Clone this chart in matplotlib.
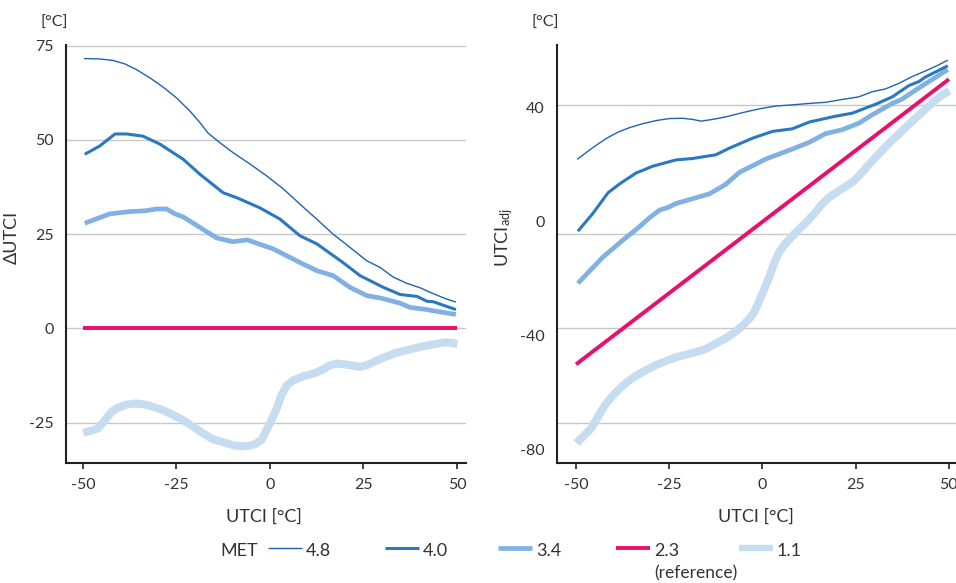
import numpy as np
import matplotlib
matplotlib.use("Agg")
import matplotlib.pyplot as plt
from matplotlib.lines import Line2D

plt.rcParams['font.family'] = ['Lato', 'DejaVu Sans']
plt.rcParams['mathtext.default'] = 'regular'
plt.rcParams['axes.unicode_minus'] = False

# delta UTCI, per metabolic rate (MET)
x_48 = [-49.7, -45.5, -41.9, -38.8, -35.7, -32.1, -28.5, -25.0, -21.4, -18.7, -16.5, -13.4, -9.8, -5.3, -0.9,
        3.6, 8.0, 12.5, 16.9, 21.4, 25.8, 29.4, 33.0, 36.5, 40.1, 43.7, 47.2, 49.7]
d_48 = [71.6, 71.5, 71.1, 70.2, 68.7, 66.5, 64.0, 61.2, 57.7, 54.6, 51.8, 49.3, 46.6, 43.6, 40.5,
        37.0, 33.0, 29.0, 25.0, 21.5, 18.0, 16.2, 13.6, 12.0, 10.8, 9.2, 7.8, 7.0]

x_40 = [-49.5, -45.5, -41.4, -38.3, -33.9, -29.4, -23.2, -18.7, -12.5, -8.9, -2.7, 2.7, 8.0, 12.6, 19.5,
        24.1, 30.3, 34.8, 39.3, 42.0, 43.6, 49.7]
d_40 = [46.2, 48.4, 51.6, 51.6, 51.0, 48.9, 44.9, 40.9, 36.0, 34.7, 32.0, 29.0, 24.6, 22.4, 17.5,
        14.0, 10.9, 9.0, 8.5, 7.2, 7.1, 5.0]

x_34 = [-49.5, -42.8, -37.4, -33.4, -30.3, -27.6, -25.4, -23.2, -18.7, -14.2, -9.9, -6.1, 0.9, 8.0,
        12.6, 16.9, 21.4, 25.9, 29.4, 34.8, 37.4, 42.0, 43.6, 49.7]
d_34 = [27.9, 30.4, 31.0, 31.2, 31.7, 31.7, 30.4, 29.6, 26.8, 24.0, 23.0, 23.5, 21.1, 17.5,
        15.3, 14.0, 10.9, 8.7, 8.1, 6.7, 5.6, 5.0, 4.7, 3.7]

x_23 = [-50.0, 50.0]
d_23 = [0.0, 0.0]

x_11 = [-49.9, -48.1, -45.9, -44.1, -42.3, -40.6, -38.3, -36.1, -33.9, -31.2, -28.5, -25.8, -23.2, -20.5,
        -17.8, -15.2, -12.5, -9.8, -7.6, -5.3, -3.6, -2.2, -0.9, 0.4, 1.8, 3.1, 4.5, 6.2, 8.9, 11.6,
        13.8, 16.0, 17.8, 20.5, 24.1, 25.8, 28.5, 31.2, 33.9, 36.5, 40.1, 43.7, 46.8, 49.0, 50.1]
d_11 = [-27.7, -27.2, -26.5, -24.3, -22.1, -21.0, -20.2, -19.9, -20.1, -20.8, -21.7, -23.0, -24.3, -26.1,
        -27.9, -29.4, -30.2, -31.0, -31.3, -31.1, -30.5, -29.5, -27.0, -24.3, -21.3, -17.7, -15.1, -13.8,
        -12.7, -12.0, -11.1, -9.8, -9.3, -9.6, -10.2, -9.8, -8.5, -7.4, -6.4, -5.8, -4.9, -4.2, -3.7,
        -3.9, -4.1]

met_labels = ['4.8', '4.0', '3.4', '2.3', '1.1']
colors = ['#1f63ae', '#2b78c2', '#80b1e2', '#eb0f6c', '#c6dcf1']
widths = [1.0, 2.2, 3.4, 2.8, 5.8]

series = [(x_48, d_48), (x_40, d_40), (x_34, d_34), (x_23, d_23), (x_11, d_11)]

W, H = 956, 583
fig = plt.figure(figsize=(W / 100, H / 100), dpi=100)

def fb(x0, y0, x1, y1):
    return [x0 / W, 1 - y1 / H, (x1 - x0) / W, (y1 - y0) / H]

ax1 = fig.add_axes(fb(66, 45, 466, 463))
ax2 = fig.add_axes(fb(557, 45, 956, 463))

# light lines go behind
for i in reversed(range(5)):
    xs, ds = series[i]
    xs = np.array(xs)
    ds = np.array(ds)
    ax1.plot(xs, ds, color=colors[i], lw=widths[i], solid_capstyle='butt', solid_joinstyle='round', zorder=3 + (4 - i))
    # adjusted UTCI = UTCI + delta
    ax2.plot(xs, xs + ds, color=colors[i], lw=widths[i], solid_capstyle='butt', solid_joinstyle='round', zorder=3 + (4 - i))

ax1.set_xlim(-54.5, 52.4)
ax1.set_ylim(-35.7, 75.2)
ax1.set_yticks([-25, 0, 25, 50, 75])
ax1.grid(axis='y', color='#c8c8c8', lw=1)

ax2.set_xlim(-55.1, 51.9)
ax2.set_ylim(-84.6, 62.0)
ax2.set_yticks([-80, -40, 0, 40])
# gridlines in the original sit slightly off the labels
for g in [41.0, -4.3, -37.3, -70.6]:
    ax2.axhline(g, color='#c8c8c8', lw=1, zorder=1)

for ax in (ax1, ax2):
    ax.set_xticks([-50, -25, 0, 25, 50])
    ax.set_xticklabels(['-50', '-25', '0', '25', '50'])
    for s in ('top', 'right'):
        ax.spines[s].set_visible(False)
    for s in ('left', 'bottom'):
        ax.spines[s].set_color('#222222')
        ax.spines[s].set_linewidth(1.5)
    ax.tick_params(axis='x', length=4, width=1.2, color='#222222', pad=7, labelsize=11.5, labelcolor='#333333')
    ax.tick_params(axis='y', length=0, pad=9, labelsize=11.5, labelcolor='#333333')
    ax.set_axisbelow(True)
    ax.set_xlabel('UTCI [°C]', fontsize=13, color='#333333')

ax1.xaxis.set_label_coords(0.495, -0.11)
ax2.xaxis.set_label_coords(0.499, -0.11)

ax1.set_ylabel('ΔUTCI', fontsize=13, color='#333333')
ax1.yaxis.set_label_coords(-0.115, 0.54)
ax2.set_ylabel('UTCI$_{adj}$', fontsize=13, color='#333333')
ax2.yaxis.set_label_coords(-0.105, 0.54)

fig.text(54 / W, 1 - 23 / H, '[°C]', ha='center', va='center', fontsize=11.5, color='#333333')
fig.text(545 / W, 1 - 23 / H, '[°C]', ha='center', va='center', fontsize=11.5, color='#333333')

# legend along the bottom
ly = 1 - 548 / H
fig.text(220 / W, 1 - 551 / H, 'MET', ha='left', va='center', fontsize=13, color='#333333')
starts = [268, 385, 498, 616, 739]
for i in range(5):
    x0 = starts[i]
    lw = min(widths[i], 4.6)
    fig.add_artist(Line2D([x0 / W, (x0 + 34) / W], [ly, ly], transform=fig.transFigure,
                          color=colors[i], lw=lw, solid_capstyle='butt'))
    fig.text((x0 + 38) / W, 1 - 551 / H, met_labels[i], ha='left', va='center', fontsize=13, color='#333333')
fig.text(654 / W, 1 - 573 / H, '(reference)', ha='left', va='center', fontsize=12.5, color='#333333')

fig.savefig('out.png', dpi=100)
